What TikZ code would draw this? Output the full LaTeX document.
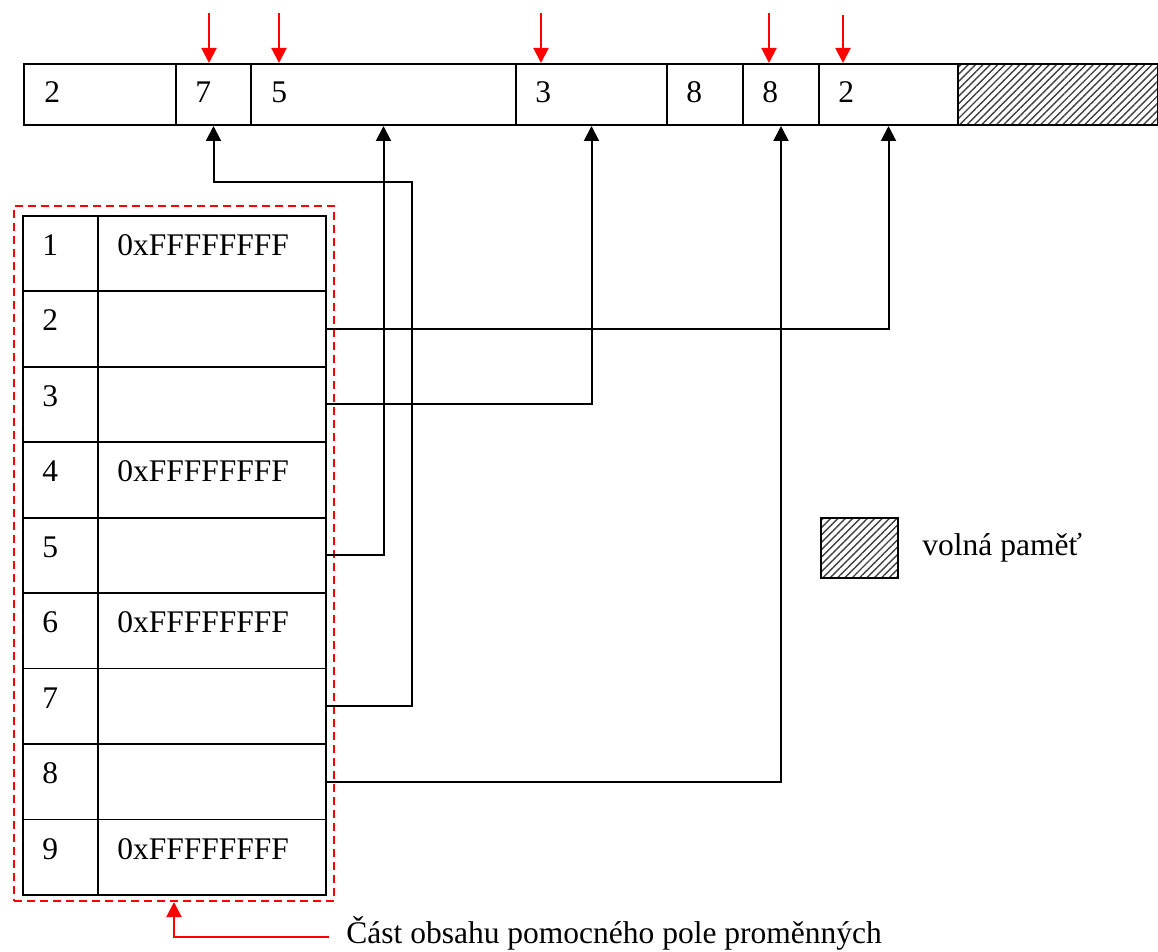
\documentclass[tikz,border=0pt]{standalone}
\usepackage{fontspec}
\setmainfont{Liberation Serif}
\usetikzlibrary{arrows.meta,patterns.meta,calc}
\begin{document}
\begin{tikzpicture}[x=0.5pt,y=-0.5pt,
  font=\fontsize{15.75}{18}\selectfont,
  cellbox/.style={draw,line width=1pt,inner sep=0pt,anchor=north west},
  txt/.style={anchor=base west,inner sep=0pt},
  conn/.style={draw,line width=1pt,-{Triangle[length=7.5pt,width=7.5pt]}},
  redarr/.style={draw=red,line width=1pt,-{Triangle[length=7.5pt,width=7.5pt]}},
  hatch/.style={pattern={Lines[angle=45,distance=2.6pt,line width=0.7pt]},pattern color=black!75}]
\useasboundingbox (0,0) rectangle (1158,952);

% top memory bar
\node[cellbox,minimum width=76pt,minimum height=30.5pt] (c1) at (23,63) {};
\node[cellbox,minimum width=37.5pt,minimum height=30.5pt] (c2) at (175,63) {};
\node[cellbox,minimum width=132.5pt,minimum height=30.5pt] (c3) at (250,63) {};
\node[cellbox,minimum width=75.5pt,minimum height=30.5pt] (c4) at (515,63) {};
\node[cellbox,minimum width=38pt,minimum height=30.5pt] (c5) at (666,63) {};
\node[cellbox,minimum width=38pt,minimum height=30.5pt] (c6) at (742,63) {};
\node[cellbox,minimum width=69.5pt,minimum height=30.5pt] (c7) at (818,63) {};
\node[cellbox,hatch,minimum width=100pt,minimum height=30.5pt] (cfree) at (957,63) {};

\node[txt] (t1) at (44,103) {2};
\node[txt] (t2) at (195,103) {7};
\node[txt] (t3) at (271,103) {5};
\node[txt] (t4) at (535,103) {3};
\node[txt] (t5) at (686,103) {8};
\node[txt] (t6) at (762,103) {8};
\node[txt] (t7) at (838,103) {2};

% red pointers
\coordinate (r1) at (209,13);
\coordinate (r2) at (279,13);
\coordinate (r3) at (541,13);
\coordinate (r4) at (769,13);
\coordinate (r5) at (843,15);
\draw[redarr] (r1) -- (r1 |- c2.north);
\draw[redarr] (r2) -- (r2 |- c3.north);
\draw[redarr] (r3) -- (r3 |- c4.north);
\draw[redarr] (r4) -- (r4 |- c6.north);
\draw[redarr] (r5) -- (r5 |- c7.north);

% table
\foreach \i in {1,...,9}{
  \pgfmathsetmacro\yy{215+(\i-1)*75.44}
  \node[cellbox,line width=0.9pt,minimum width=37.5pt,minimum height=37.72pt] (n\i) at (22,\yy) {};
  \node[cellbox,line width=0.9pt,minimum width=114pt,minimum height=37.72pt] (v\i) at (97,\yy) {};
  \node[txt] (k\i) at (42,\yy+40.5) {\i};
}
\foreach \i in {1,4,6,9}{
  \pgfmathsetmacro\yy{215+(\i-1)*75.44}
  \node[txt] (f\i) at (117,\yy+40.5) {0xFFFFFFFF};
}

% dashed frame
\node[draw=red,line width=1pt,dash pattern=on 4pt off 2.5pt,inner sep=0pt,anchor=north west,
  minimum width=160pt,minimum height=347.5pt] (dbox) at (13,205) {};

% connectors
\coordinate (k7) at (412,182);
\draw[conn] (v2.east) -| (c7.south);
\draw[conn] (v3.east) -| (c4.south);
\draw[conn] (v5.east) -| (c3.south);
\draw[conn] (v7.east) -| (k7) -| (c2.south);
\draw[conn] (v8.east) -| (c6.south);

% legend
\node[cellbox,hatch,minimum width=38.5pt,minimum height=30pt] (leg) at (820,517) {};
\node[txt] (legt) at (922,555) {volná paměť};

% caption
\coordinate (b1) at (329,937);
\draw[redarr] (b1) -| (dbox.south);
\node[txt] (cap) at (346,943) {Část obsahu pomocného pole proměnných};
\end{tikzpicture}
\end{document}
